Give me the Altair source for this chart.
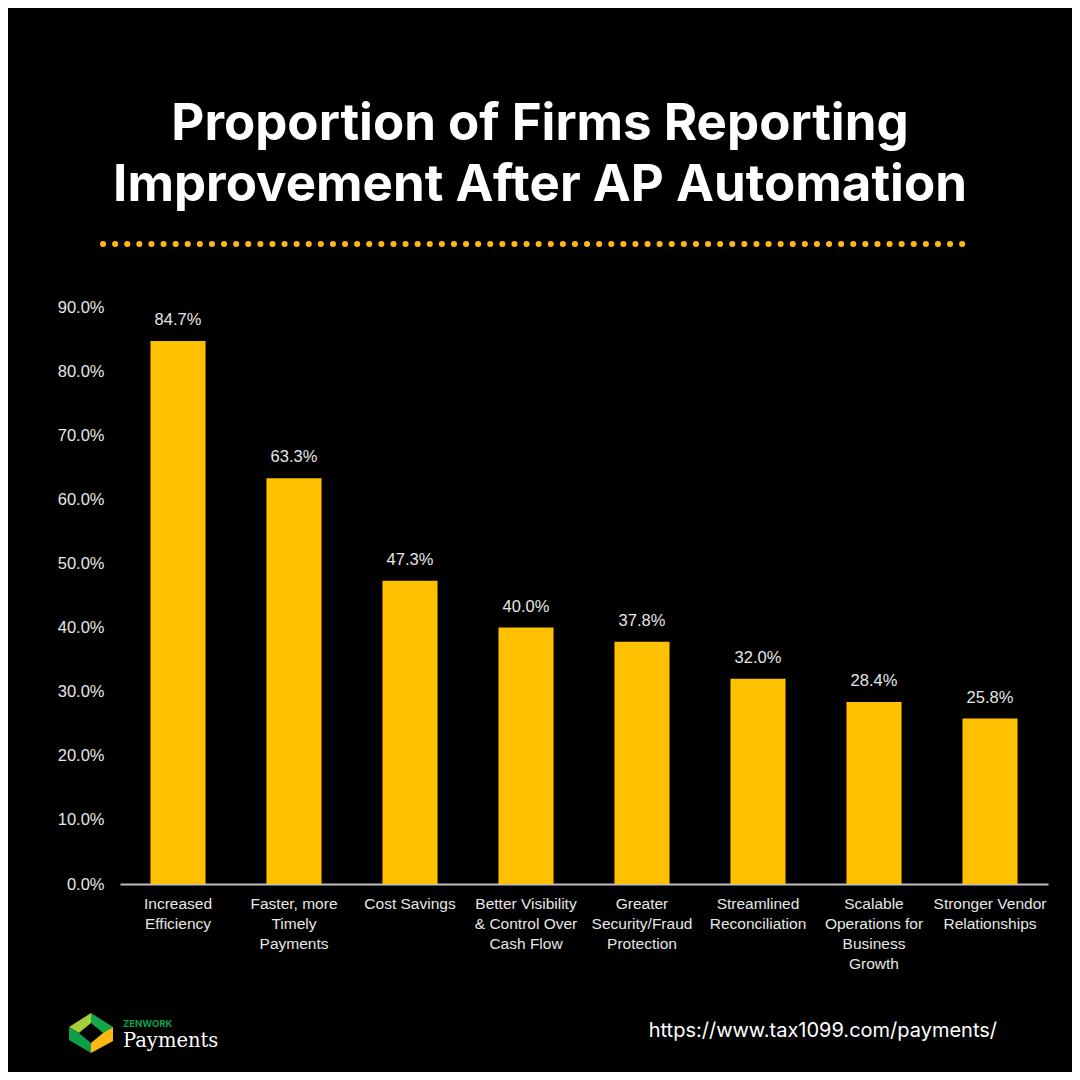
import altair as alt
import pandas as pd

categories = [
    "Increased\nEfficiency",
    "Faster, more\nTimely\nPayments",
    "Cost Savings",
    "Better Visibility\n& Control Over\nCash Flow",
    "Greater\nSecurity/Fraud\nProtection",
    "Streamlined\nReconciliation",
    "Scalable\nOperations for\nBusiness\nGrowth",
    "Stronger Vendor\nRelationships",
]
values = [0.847, 0.633, 0.473, 0.400, 0.378, 0.320, 0.284, 0.258]
y_ticks = [0.0, 0.1, 0.2, 0.3, 0.4, 0.5, 0.6, 0.7, 0.8, 0.9]

title_lines = ["Proportion of Firms Reporting", "Improvement After AP Automation"]
brand_small = ["ZENWORK"]
brand_big = ["Payments"]
url_text = ["https://www.tax1099.com/payments/"]

logo_paths = [
    "M 0 -0.91 L -1 -0.27 L -0.55 0 L 0 -0.45 Z",
    "M 0 -0.91 L 1 -0.27 L 0.55 0 L 0 -0.45 Z",
    "M -1 -0.27 L -0.55 0 L 0 0.45 L 0 0.91 L -1 0.32 Z",
    "M 1 -0.27 L 0.55 0 L 0 0.45 L 0 0.91 L 1 0.36 Z",
]
logo_colors = ["#A6CE39", "#13A64B", "#0B9E47", "#FDB913"]

df = pd.DataFrame({"category": categories, "value": values})

BAR = "#FFC000"
TXT = "#E6E6E6"

x_enc = alt.X(
    "category:N",
    sort=categories,
    scale=alt.Scale(paddingInner=0.525, paddingOuter=0.2625),
    axis=alt.Axis(
        title=None,
        labelAngle=0,
        labelColor=TXT,
        labelFont="Liberation Sans",
        labelFontSize=15.5,
        labelLineHeight=20,
        labelPadding=12,
        labelBaseline="top",
        labelExpr="split(datum.label, '\\n')",
        labelOverlap=False,
        labelLimit=200,
        ticks=False,
        domainColor="#BFBFBF",
        domainWidth=2,
        grid=False,
    ),
)
y_enc = alt.Y(
    "value:Q",
    scale=alt.Scale(domain=[0, 0.9], nice=False),
    axis=alt.Axis(
        title=None,
        values=y_ticks,
        format=".1%",
        labelColor=TXT,
        labelFont="Liberation Sans",
        labelFontSize=16.5,
        labelPadding=16,
        ticks=False,
        domain=False,
        grid=False,
    ),
)

base = alt.Chart(df)
bars = base.mark_bar(color=BAR).encode(x=x_enc, y=y_enc)
labels = base.mark_text(
    color=TXT, font="Liberation Sans", fontSize=16.5, baseline="bottom", dy=-13
).encode(x=alt.X("category:N", sort=categories), y="value:Q", text=alt.Text("value:Q", format=".1%"))

title = alt.Chart(pd.DataFrame({"t": ["\n".join(title_lines)]})).mark_text(
    color="white", font="Inter", fontWeight="bold", fontSize=51, lineBreak="\n",
    lineHeight=61, align="center", baseline="alphabetic",
).encode(text="t:N", x=alt.value(420), y=alt.value(-167))

dots = alt.Chart(pd.DataFrame({"a": [0]})).mark_rule(
    color="#FDB813", strokeWidth=6, strokeCap="round", strokeDash=[0.1, 12]
).encode(x=alt.value(-17), x2=alt.value(852), y=alt.value(-63))

logo_layers = []
for p, c in zip(logo_paths, logo_colors):
    logo_layers.append(
        alt.Chart(pd.DataFrame({"part": [p]})).mark_point(
            shape=p, size=1936, filled=True, color=c, opacity=1, strokeWidth=0
        ).encode(x=alt.value(-29), y=alt.value(726))
    )

zen = alt.Chart(pd.DataFrame({"t": brand_small})).mark_text(
    color="#0AA14B", font="Inter", fontWeight="bold", fontSize=9.5, align="left", baseline="alphabetic"
).encode(text="t:N", x=alt.value(3), y=alt.value(720))

pay = alt.Chart(pd.DataFrame({"t": brand_big})).mark_text(
    color="white", font="DejaVu Serif", fontSize=19.5, align="left", baseline="alphabetic"
).encode(text="t:N", x=alt.value(3), y=alt.value(740))

url = alt.Chart(pd.DataFrame({"t": url_text})).mark_text(
    color="white", font="Inter", fontSize=20, align="right", baseline="middle"
).encode(text="t:N", x=alt.value(877), y=alt.value(724))

chart = alt.layer(bars, labels, title, dots, *logo_layers, zen, pay, url).properties(
    width=928,
    height=577,
    background="black",
    padding={"left": 112, "right": 24, "top": 299, "bottom": 188},
    autosize=alt.AutoSizeParams(type="none"),
).configure_view(stroke=None)

chart.save("out.html", embed_options={"renderer": "svg", "actions": False})
